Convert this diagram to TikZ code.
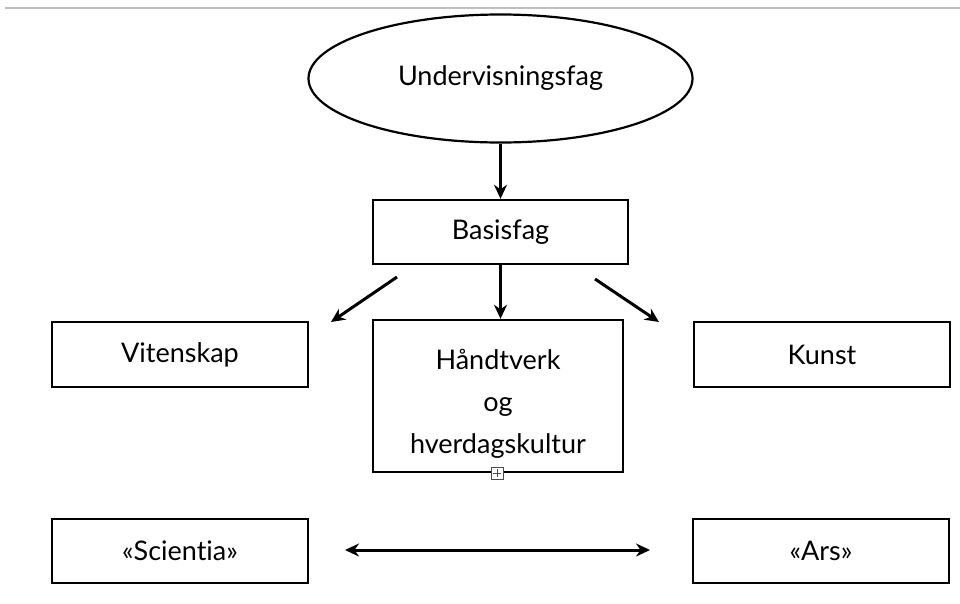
\documentclass[tikz,border=0pt]{standalone}
\usepackage{fontspec}
\setmainfont[Ligatures={NoCommon}]{Lato}
\usetikzlibrary{shapes.geometric,arrows.meta,calc}
\begin{document}
\begin{tikzpicture}[x=1pt,y=-1pt,
  box/.style={draw=black,line width=2.4pt,minimum width=255pt,minimum height=64pt,inner sep=0pt,font=\fontsize{27}{42}\selectfont,align=center},
  conn/.style={line width=3pt,-{Stealth[length=14pt,width=13pt]}},
  font=\fontsize{27}{42}\selectfont]
\useasboundingbox (0,0) rectangle (960,603);
\fill[white] (0,0) rectangle (960,603);
\draw[line width=2pt,draw=black!25] (5,8) -- (960,8);
\node[ellipse,draw=black,line width=2.2pt,minimum width=384pt,minimum height=128pt,inner sep=0pt] (uf) at (500.5,78.5) {Undervisningsfag};
\node[box] (bf) at (500.5,232) {Basisfag};
\node[box,minimum width=256pt,minimum height=65pt] (vit) at (180,354.5) {Vitenskap};
\node[box,minimum width=256pt,minimum height=65pt] (kun) at (822,354.5) {Kunst};
\node[box,minimum width=250pt,minimum height=152pt] (hv) at (498,396) {};
\node[align=center,inner sep=0pt] (hvt) at (498,404) {Håndtverk\\og\\hverdagskultur};
\node[box,minimum width=256pt] (sci) at (180,551) {«Scientia»};
\node[box,minimum width=256pt] (ars) at (821,551) {«Ars»};
\node[draw=black!70,fill=white,line width=1pt,minimum size=12pt,inner sep=0pt] (exp) at (497,473) {};
\draw[black!70,line width=1pt] ($(exp)+(-4,0)$) -- ($(exp)+(4,0)$) ($(exp)+(0,-4)$) -- ($(exp)+(0,4)$);
\coordinate (l1) at (397,277);
\coordinate (l2) at (331,322);
\coordinate (r1) at (595,279);
\coordinate (r2) at (659,322);
\coordinate (d1) at (345,550);
\coordinate (d2) at (650,550);
\draw[conn] (uf.south) -- (uf.south |- bf.north);
\draw[conn] (bf.south) -- (bf.south |- hv.north);
\draw[conn] (l1) -- (l2);
\draw[conn] (r1) -- (r2);
\draw[line width=3pt,{Stealth[length=14pt,width=13pt]}-{Stealth[length=14pt,width=13pt]}] (d1) -- (d2);
\end{tikzpicture}
\end{document}
